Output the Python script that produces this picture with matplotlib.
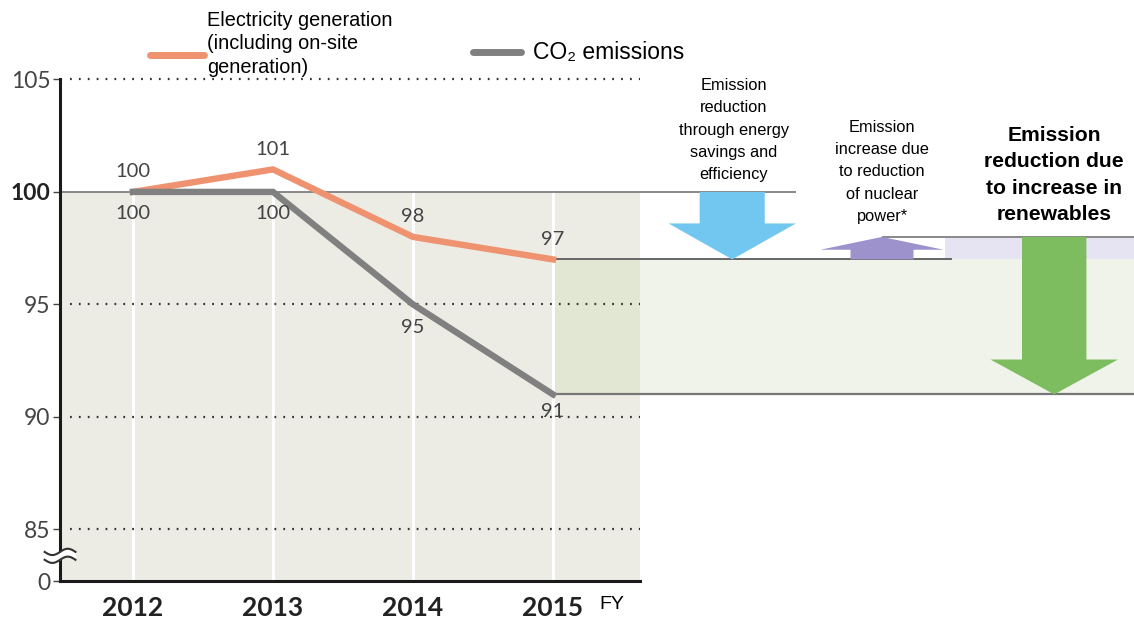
import numpy as np
import matplotlib
matplotlib.use("Agg")
import matplotlib.pyplot as plt
from matplotlib.patches import Polygon, Rectangle

# index values, FY2012 = 100
years = [2012, 2013, 2014, 2015]
generation = [100, 101, 98, 97]
co2 = [100, 100, 95, 91]
nuclear_level = 98  # level after the nuclear effect, before renewables

ytick_vals = [82.7, 85, 90, 95, 100, 105]
ytick_labels = ["0", "85", "90", "95", "100", "105"]

ORANGE = "#ef9270"
GREY = "#808080"
BLUE = "#72c7f0"
PURPLE = "#9d92cc"
GREEN = "#7dbd5f"

tick_font = "Lato"
txt_font = ["Liberation Sans", "DejaVu Sans"]

fig = plt.figure(figsize=(11.34, 6.23), dpi=100)
ax = fig.add_axes([0, 0, 1, 1])
ax.set_xlim(2011.05, 2019.15)
ax.set_ylim(80.84, 108.53)
ax.patch.set_alpha(0)

x_left, x_right = 2011.479, 2015.621
y_bot = 82.7

# background panels
ax.add_patch(Rectangle((x_left, y_bot), x_right - x_left, 100 - y_bot,
                       color="#ecebe4", zorder=0, lw=0))
ax.add_patch(Rectangle((years[-1], co2[-1]), x_right - years[-1], generation[-1] - co2[-1],
                       color="#e2e7d4", zorder=0.5, lw=0))
ax.add_patch(Rectangle((x_right, co2[-1]), 2019.2 - x_right, generation[-1] - co2[-1],
                       color="#eff3e9", zorder=0.5, lw=0))
ax.add_patch(Rectangle((2017.8, generation[-1]), 2019.2 - 2017.8, nuclear_level - generation[-1],
                       color="#e6e3f2", zorder=0.5, lw=0))
for yr in years:
    ax.plot([yr, yr], [y_bot, 100], color="white", lw=2.2, zorder=0.6)

# dotted grid
for v in [85, 90, 95, 105]:
    ax.plot([2011.55, x_right], [v, v], color="#333333", lw=1.6,
            linestyle=(0, (0.8, 3.2)), zorder=1)

# reference lines
ax.plot([x_left, 2016.73], [100, 100], color="#888888", lw=1.4, zorder=1)
ax.plot([years[-1], 2017.84], [generation[-1]] * 2, color="#666666", lw=1.4, zorder=1)
ax.plot([2017.36, 2019.2], [nuclear_level] * 2, color="#888888", lw=1.4, zorder=1)
ax.plot([years[-1], 2019.2], [co2[-1]] * 2, color="#777777", lw=1.6, zorder=1)


def block_arrow(xc, y0, y1, shaft_w, head_w, head_len, color):
    d = 1 if y1 > y0 else -1
    yb = y1 - d * head_len
    pts = [(xc - shaft_w / 2, y0), (xc + shaft_w / 2, y0), (xc + shaft_w / 2, yb),
           (xc + head_w / 2, yb), (xc, y1), (xc - head_w / 2, yb), (xc - shaft_w / 2, yb)]
    ax.add_patch(Polygon(pts, closed=True, color=color, lw=0, zorder=2))


block_arrow(2016.28, 100, generation[-1], 0.465, 0.91, 1.6, BLUE)
block_arrow(2017.35, generation[-1], nuclear_level, 0.45, 0.88, 0.57, PURPLE)
block_arrow(2018.58, nuclear_level, co2[-1], 0.46, 0.91, 1.55, GREEN)

# series
ax.plot(years, generation, color=ORANGE, lw=4.6, zorder=3, solid_joinstyle="miter")
ax.plot(years, co2, color=GREY, lw=4.6, zorder=3, solid_joinstyle="miter")

for x, v in zip(years, generation):
    ax.text(x, v + 0.9, str(v), ha="center", va="center", fontsize=14.5,
            family=tick_font, color="#444444", zorder=4)
co2_off = [-0.98, -0.98, -1.02, -0.75]
for x, v, o in zip(years, co2, co2_off):
    ax.text(x, v + o, str(v), ha="center", va="center", fontsize=14.5,
            family=tick_font, color="#444444", zorder=4)

# axes
for s in ["top", "right"]:
    ax.spines[s].set_visible(False)
ax.spines["left"].set_position(("data", x_left))
ax.spines["left"].set_bounds(y_bot, 105)
ax.spines["bottom"].set_position(("data", y_bot))
ax.spines["bottom"].set_bounds(x_left, x_right)
for s in ["left", "bottom"]:
    ax.spines[s].set_linewidth(2.2)
    ax.spines[s].set_color("#1a1a1a")
    ax.spines[s].set_zorder(5)

ax.set_yticks(ytick_vals)
ax.set_yticklabels(ytick_labels)
ax.tick_params(axis="y", direction="out", length=5, width=1, pad=2,
               labelsize=16.5, labelcolor="#444444", color="#444444")
for lab in ax.get_yticklabels():
    lab.set_fontfamily(tick_font)
    if lab.get_text() == "100":
        lab.set_fontweight("bold")
        lab.set_color("#222222")
ax.set_xticks(years)
ax.set_xticklabels([str(y) for y in years])
ax.tick_params(axis="x", length=0, pad=10.5, labelsize=19)
for lab in ax.get_xticklabels():
    lab.set_fontfamily(tick_font)
    lab.set_fontweight("bold")
    lab.set_color("#222222")
ax.text(2015.33, 81.65, "FY", fontsize=14, family=txt_font, va="center", ha="left")

# axis break mark
xb = np.linspace(x_left - 0.11, x_left + 0.11, 40)
wave = 0.14 * np.sin((xb - x_left) / 0.11 * np.pi)
ax.fill_between(xb, 83.65 + wave, 84.0 + wave, color="white", zorder=6, lw=0)
ax.plot(xb, 83.65 + wave, color="#333333", lw=1.5, zorder=7)
ax.plot(xb, 84.0 + wave, color="#333333", lw=1.5, zorder=7)

# legend
ax.plot([2012.12, 2012.51], [106.08, 106.08], color=ORANGE, lw=5, solid_capstyle="round")
ax.text(2012.53, 108.05, "Electricity generation\n(including on-site\ngeneration)",
        fontsize=14.3, family=txt_font, va="top", ha="left", linespacing=1.3)
ax.plot([2014.43, 2014.77], [106.2, 106.2], color=GREY, lw=5, solid_capstyle="round")
ax.text(2014.86, 106.2, "CO₂ emissions", fontsize=16.5, family=txt_font, va="center", ha="left")

# effect labels
ax.text(2016.29, 105.05, "Emission\nreduction\nthrough energy\nsavings and\nefficiency",
        fontsize=11.8, family=txt_font, va="top", ha="center", linespacing=1.6)
ax.text(2017.35, 103.2, "Emission\nincrease due\nto reduction\nof nuclear\npower*",
        fontsize=11.8, family=txt_font, va="top", ha="center", linespacing=1.6)
ax.text(2018.58, 102.95, "Emission\nreduction due\nto increase in\nrenewables",
        fontsize=15.2, family=txt_font, weight="bold", va="top", ha="center", linespacing=1.5)

fig.savefig("out.png", dpi=100)
